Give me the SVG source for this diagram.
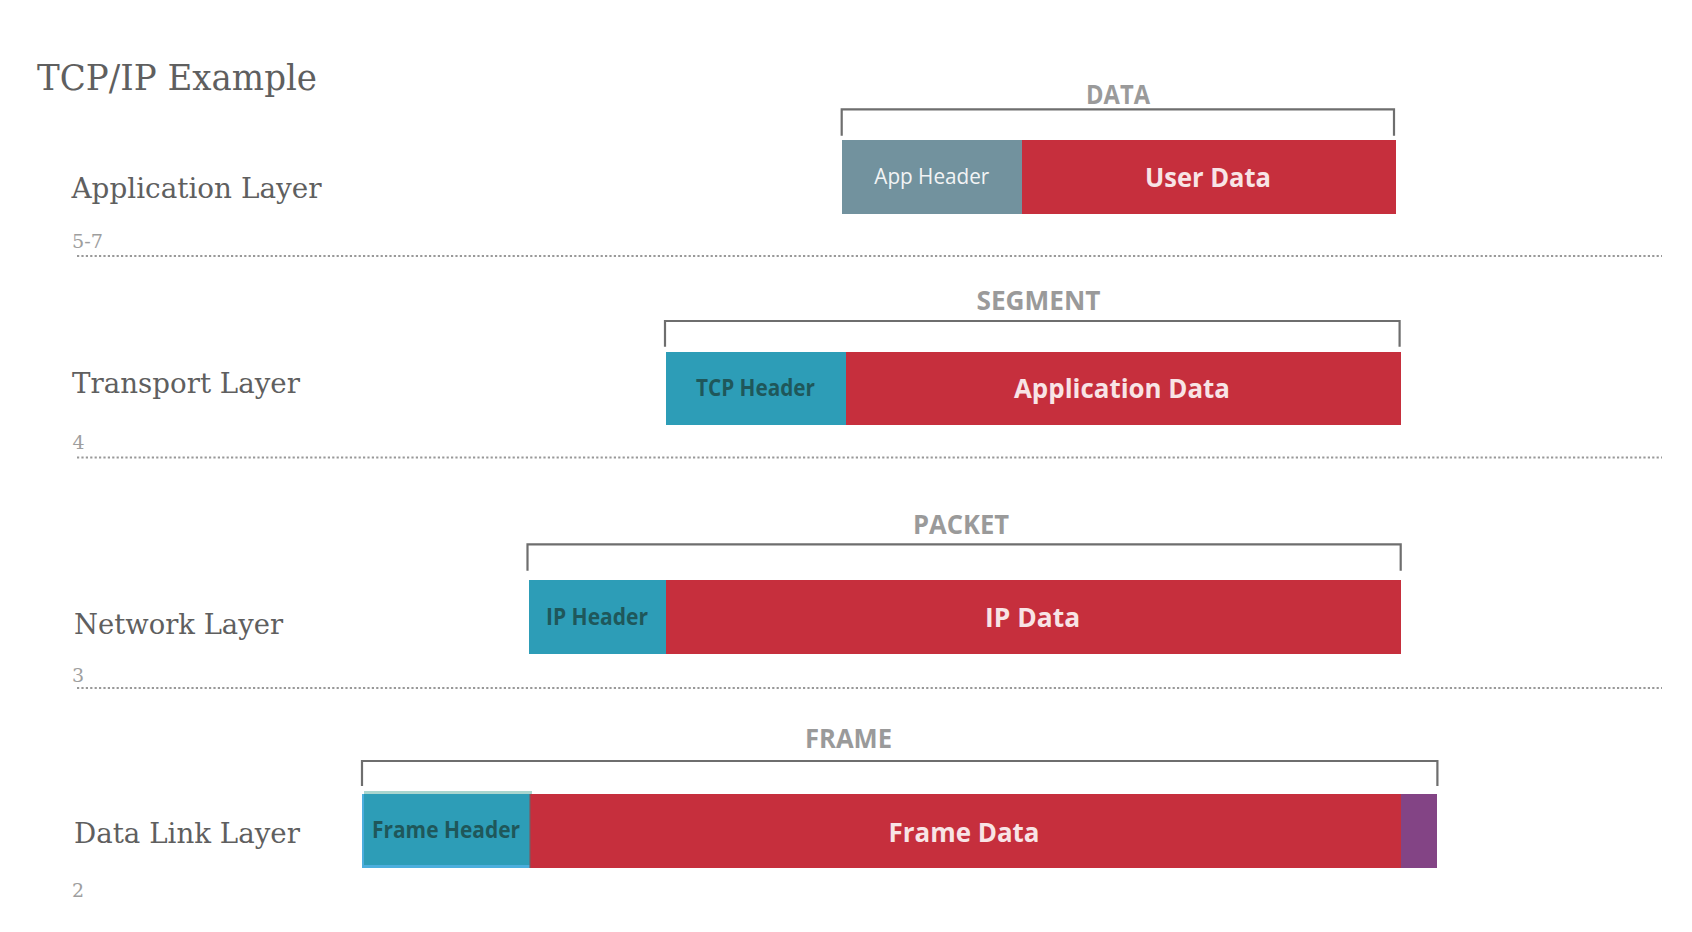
<svg xmlns="http://www.w3.org/2000/svg" width="1692" height="932" viewBox="0 0 1692 932">
<style>
.serif{font-family:"DejaVu Serif","Liberation Serif",serif;fill:#5f5f5f}
.layer{font-size:27px}
.num{font-size:19px;fill:#9e9e9e}
.unit{font-family:"Open Sans","Noto Sans","Liberation Sans",sans-serif;font-weight:700;font-size:27px;fill:#9a9a9a;text-anchor:middle}
.hdr{font-family:"Open Sans","Noto Sans","Liberation Sans",sans-serif;font-weight:700;font-size:23px;fill:#1f575a;text-anchor:middle}
.dat{font-family:"Open Sans","Noto Sans","Liberation Sans",sans-serif;font-weight:700;font-size:27.5px;fill:#f8e4e6;text-anchor:middle}
.br{fill:none;stroke:#6e6e6e;stroke-width:2.2}
.sep{stroke:#999999;stroke-width:2.2;stroke-dasharray:2.2 2.2}
.red{fill:#c62f3d}
.teal{fill:#2d9db7}
</style>
<rect width="1692" height="932" fill="#ffffff"/>
<text class="serif" x="37" y="90" font-size="35.5" textLength="280" lengthAdjust="spacingAndGlyphs">TCP/IP Example</text>
<g id="separators">
<line class="sep" x1="77" y1="256" x2="1662" y2="256"/>
<line class="sep" x1="77" y1="457.5" x2="1662" y2="457.5"/>
<line class="sep" x1="77" y1="688" x2="1662" y2="688"/>
</g>
<g id="application-layer">
<text class="serif layer" x="71.5" y="198" textLength="250" lengthAdjust="spacingAndGlyphs">Application Layer</text>
<text class="serif num" x="72" y="248" textLength="31" lengthAdjust="spacingAndGlyphs">5-7</text>
<path class="br" d="M841.7 135.7V109.3H1394V135.7"/>
<text class="unit" x="1118" y="103.5" textLength="64" lengthAdjust="spacingAndGlyphs">DATA</text>
<rect x="842" y="140" width="180" height="74" fill="#72929e"/>
<rect class="red" x="1022" y="140" width="374" height="74"/>
<text x="931.8" y="184" font-family="'Open Sans','Noto Sans','Liberation Sans',sans-serif" font-size="22.5" fill="#f2f4f5" text-anchor="middle" textLength="115" lengthAdjust="spacingAndGlyphs">App Header</text>
<text class="dat" x="1208" y="186.5" textLength="126" lengthAdjust="spacingAndGlyphs">User Data</text>
</g>
<g id="transport-layer">
<text class="serif layer" x="72" y="393.3" textLength="228" lengthAdjust="spacingAndGlyphs">Transport Layer</text>
<text class="serif num" x="72.5" y="449.3">4</text>
<path class="br" d="M665 346.7V321H1399.6V346.7"/>
<text class="unit" x="1038.5" y="310" textLength="124" lengthAdjust="spacingAndGlyphs">SEGMENT</text>
<rect class="teal" x="666" y="352" width="180" height="73"/>
<rect class="red" x="846" y="352" width="555" height="73"/>
<text class="hdr" x="755.5" y="396" textLength="119" lengthAdjust="spacingAndGlyphs">TCP Header</text>
<text class="dat" x="1122" y="398.3" textLength="216" lengthAdjust="spacingAndGlyphs">Application Data</text>
</g>
<g id="network-layer">
<text class="serif layer" x="74" y="634" textLength="209" lengthAdjust="spacingAndGlyphs">Network Layer</text>
<text class="serif num" x="72" y="681.7">3</text>
<path class="br" d="M527.5 570.7V544.3H1400.7V570.7"/>
<text class="unit" x="961" y="534" textLength="96" lengthAdjust="spacingAndGlyphs">PACKET</text>
<rect class="teal" x="529" y="580" width="137" height="74"/>
<rect class="red" x="666" y="580" width="735" height="74"/>
<text class="hdr" x="597" y="625" textLength="102" lengthAdjust="spacingAndGlyphs">IP Header</text>
<text class="dat" x="1032.6" y="627" textLength="95" lengthAdjust="spacingAndGlyphs">IP Data</text>
</g>
<g id="data-link-layer">
<text class="serif layer" x="74" y="842.7" textLength="226" lengthAdjust="spacingAndGlyphs">Data Link Layer</text>
<text class="serif num" x="72" y="896.7">2</text>
<path class="br" d="M362 786V761H1437.4V786"/>
<text class="unit" x="848.5" y="747.8" textLength="87" lengthAdjust="spacingAndGlyphs">FRAME</text>
<rect x="364" y="791" width="168" height="3" fill="#a9d6cf"/>
<rect class="teal" x="362" y="794" width="168" height="74"/>
<rect x="362" y="865" width="168" height="3" fill="#4caedd"/>
<rect x="362" y="794" width="2" height="74" fill="#4caedd"/>
<rect class="red" x="530" y="794" width="871" height="74"/>
<rect x="529" y="794" width="2" height="74" fill="#7a5a60" opacity="0.6"/>
<rect x="1401" y="794" width="36" height="74" fill="#834485"/>
<text class="hdr" x="446" y="838.3" font-size="22" textLength="148" lengthAdjust="spacingAndGlyphs">Frame Header</text>
<text class="dat" x="964" y="841.6" textLength="151" lengthAdjust="spacingAndGlyphs">Frame Data</text>
</g>
<g id="connectors"/>
</svg>
